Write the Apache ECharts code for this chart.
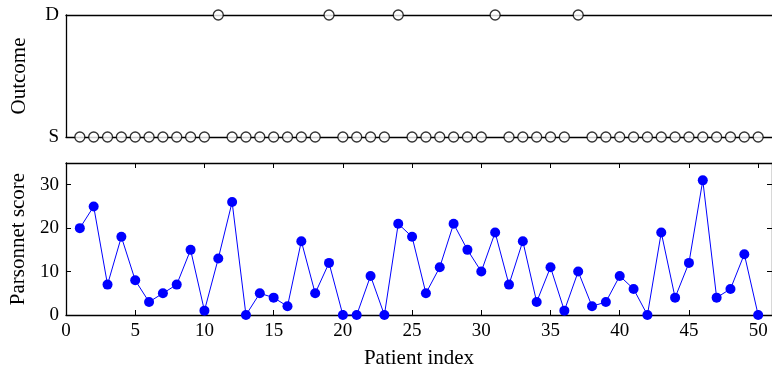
<!DOCTYPE html>
<html><head><meta charset="utf-8">
<script src="https://cdn.jsdelivr.net/npm/echarts@6/dist/echarts.min.js"></script>
<style>html,body{margin:0;padding:0;background:#fff;}#c{width:772px;height:371px;}</style>
</head><body><div id="c"></div>
<script>
const patients = Array.from({length: 50}, (_, i) => i + 1);
const parsonnet = [20,25,7,18,8,3,5,7,15,1,13,26,0,5,4,2,17,5,12,0,0,9,0,21,18,5,11,21,15,10,19,7,17,3,11,1,10,2,3,9,6,0,19,4,12,31,4,6,14,0];
const deaths = [11,19,24,31,37];
const outcomeLabels = ['S','D'];
const xTicks = [0,5,10,15,20,25,30,35,40,45,50];
const yTicks = [0,10,20,30];

const survPts = patients.filter(p => !deaths.includes(p)).map(p => [p, 0]);
const deadPts = deaths.map(p => [p, 1]);

const font = 'Liberation Serif';
const chart = echarts.init(document.getElementById('c'), null, {renderer: 'canvas'});
const axLine = {show: true, onZero: false, lineStyle: {color: '#000', width: 1.3}};
const tick = {show: true, inside: true, length: 5, lineStyle: {color: '#000', width: 1}};
chart.setOption({
  animation: false,
  textStyle: {fontFamily: font},
  grid: [
    {left: 66, right: -4, top: 15, bottom: 234},
    {left: 66, right: -4, top: 163, bottom: 56}
  ],
  xAxis: [
    {gridIndex: 0, type: 'value', min: 0, max: 51, position: 'bottom', axisLine: axLine, axisTick: {show: false}, axisLabel: {show: false}, splitLine: {show: false}},
    {gridIndex: 0, type: 'value', min: 0, max: 51, position: 'top', axisLine: axLine, axisTick: {show: false}, axisLabel: {show: false}, splitLine: {show: false}},
    {gridIndex: 1, type: 'value', min: 0, max: 51, interval: 5, position: 'bottom',
      name: 'Patient index', nameLocation: 'middle', nameGap: 33,
      nameTextStyle: {fontFamily: font, fontSize: 21, color: '#000'},
      axisLine: axLine, axisTick: tick,
      axisLabel: {fontFamily: font, fontSize: 19, color: '#000', margin: 7, showMaxLabel: false,
        formatter: v => xTicks.includes(v) ? String(v) : ''},
      splitLine: {show: false}},
    {gridIndex: 1, type: 'value', min: 0, max: 51, interval: 5, position: 'top',
      axisLine: axLine, axisTick: tick,
      axisLabel: {show: false}, splitLine: {show: false}}
  ],
  yAxis: [
    {gridIndex: 0, type: 'value', min: 0, max: 1, interval: 1, position: 'left',
      name: 'Outcome', nameLocation: 'middle', nameGap: 36,
      nameTextStyle: {fontFamily: font, fontSize: 21, color: '#000'},
      axisLine: axLine, axisTick: {show: false},
      axisLabel: {fontFamily: font, fontSize: 19, color: '#000', margin: 7, formatter: v => outcomeLabels[v]},
      splitLine: {show: false}},
    {gridIndex: 1, type: 'value', min: 0, max: 35, interval: 10, position: 'left',
      name: 'Parsonnet score', nameLocation: 'middle', nameGap: 36,
      nameTextStyle: {fontFamily: font, fontSize: 21, color: '#000'},
      axisLine: axLine, axisTick: tick,
      axisLabel: {fontFamily: font, fontSize: 19, color: '#000', margin: 7, showMaxLabel: false,
        formatter: v => yTicks.includes(v) ? String(v) : ''},
      splitLine: {show: false}},
    {gridIndex: 1, type: 'value', min: 0, max: 35, interval: 10, position: 'right',
      axisLine: axLine, axisTick: tick,
      axisLabel: {show: false}, splitLine: {show: false}}
  ],
  series: [
    {type: 'scatter', xAxisIndex: 0, yAxisIndex: 0, data: survPts, symbol: 'circle', symbolSize: 10,
      itemStyle: {color: '#fff', borderColor: '#000', borderWidth: 1.3}, z: 5},
    {type: 'scatter', xAxisIndex: 0, yAxisIndex: 0, data: deadPts, symbol: 'circle', symbolSize: 10,
      itemStyle: {color: '#fff', borderColor: '#000', borderWidth: 1.3}, z: 5},
    {type: 'line', xAxisIndex: 2, yAxisIndex: 1, data: patients.map((p, i) => [p, parsonnet[i]]),
      symbol: 'circle', symbolSize: 10, showSymbol: true,
      lineStyle: {color: '#0000ff', width: 1}, itemStyle: {color: '#0000ff'}, z: 5}
  ]
});
</script></body></html>
